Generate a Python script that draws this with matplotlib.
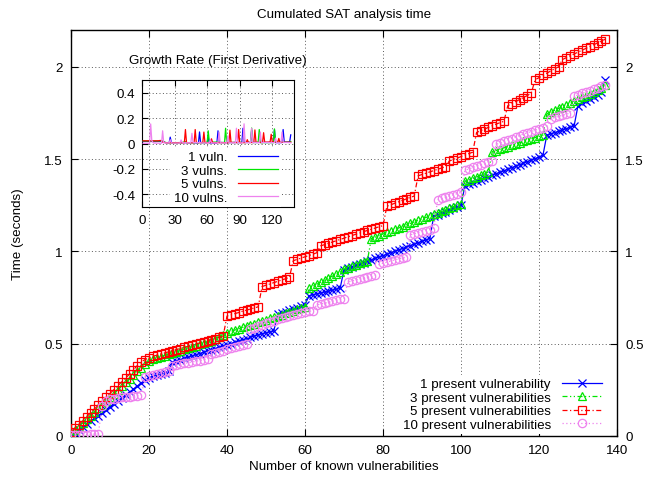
import numpy as np
import matplotlib
matplotlib.use("Agg")
import matplotlib.pyplot as plt
from matplotlib import ticker

plt.rcParams['font.family'] = ['Liberation Sans', 'DejaVu Sans']
FS = 9.6

# cumulated SAT analysis time (seconds), one value per known vulnerability count 0..137
time_1vuln = [
    0.000, 0.015, 0.031, 0.047, 0.063, 0.079, 0.095, 0.111, 0.127, 0.143,
    0.159, 0.175, 0.190, 0.206, 0.222, 0.238, 0.254, 0.270, 0.288, 0.302,
    0.315, 0.324, 0.331, 0.338, 0.344, 0.350, 0.400, 0.407, 0.413, 0.420,
    0.427, 0.434, 0.440, 0.447, 0.454, 0.461, 0.467, 0.474, 0.481, 0.488,
    0.494, 0.501, 0.508, 0.515, 0.521, 0.528, 0.535, 0.542, 0.548, 0.554,
    0.559, 0.564, 0.569, 0.660, 0.667, 0.674, 0.681, 0.688, 0.695, 0.702,
    0.710, 0.760, 0.765, 0.770, 0.775, 0.780, 0.785, 0.790, 0.795, 0.800,
    0.900, 0.908, 0.916, 0.924, 0.931, 0.939, 0.947, 0.954, 0.962, 0.970,
    0.977, 0.985, 0.993, 1.000, 1.008, 1.016, 1.024, 1.032, 1.039, 1.047,
    1.055, 1.062, 1.070, 1.190, 1.199, 1.207, 1.216, 1.224, 1.233, 1.241,
    1.250, 1.355, 1.363, 1.371, 1.380, 1.388, 1.396, 1.404, 1.413, 1.421,
    1.429, 1.437, 1.446, 1.454, 1.462, 1.470, 1.478, 1.487, 1.495, 1.503,
    1.511, 1.520, 1.630, 1.637, 1.644, 1.651, 1.658, 1.665, 1.672, 1.680,
    1.790, 1.802, 1.814, 1.826, 1.838, 1.850, 1.862, 1.930]

time_3vulns = [
    0.010, 0.030, 0.050, 0.070, 0.090, 0.110, 0.130, 0.150, 0.170, 0.190,
    0.210, 0.230, 0.250, 0.270, 0.290, 0.310, 0.330, 0.350, 0.370, 0.390,
    0.405, 0.415, 0.422, 0.429, 0.436, 0.443, 0.450, 0.456, 0.463, 0.470,
    0.476, 0.483, 0.490, 0.496, 0.503, 0.510, 0.517, 0.524, 0.535, 0.545,
    0.560, 0.567, 0.574, 0.581, 0.588, 0.595, 0.602, 0.609, 0.616, 0.623,
    0.630, 0.637, 0.644, 0.651, 0.658, 0.665, 0.672, 0.679, 0.686, 0.693,
    0.700, 0.800, 0.811, 0.822, 0.833, 0.844, 0.855, 0.866, 0.877, 0.888,
    0.905, 0.913, 0.921, 0.929, 0.937, 0.944, 0.950, 1.070, 1.078, 1.086,
    1.095, 1.103, 1.111, 1.119, 1.127, 1.135, 1.144, 1.152, 1.160, 1.168,
    1.176, 1.184, 1.193, 1.201, 1.209, 1.217, 1.225, 1.233, 1.242, 1.250,
    1.258, 1.380, 1.388, 1.396, 1.404, 1.412, 1.420, 1.430, 1.540, 1.547,
    1.554, 1.561, 1.568, 1.575, 1.582, 1.589, 1.596, 1.603, 1.610, 1.617,
    1.624, 1.630, 1.745, 1.755, 1.765, 1.775, 1.785, 1.795, 1.805, 1.815,
    1.825, 1.835, 1.845, 1.855, 1.865, 1.875, 1.885, 1.900]

time_5vulns = [
    0.020, 0.041, 0.062, 0.083, 0.104, 0.125, 0.146, 0.167, 0.188, 0.209,
    0.230, 0.251, 0.272, 0.293, 0.314, 0.335, 0.358, 0.382, 0.402, 0.414,
    0.424, 0.432, 0.438, 0.444, 0.450, 0.456, 0.462, 0.468, 0.474, 0.480,
    0.486, 0.492, 0.498, 0.504, 0.510, 0.516, 0.522, 0.528, 0.534, 0.540,
    0.650, 0.656, 0.663, 0.669, 0.676, 0.682, 0.688, 0.694, 0.700, 0.810,
    0.817, 0.824, 0.831, 0.838, 0.845, 0.852, 0.860, 0.950, 0.957, 0.964,
    0.971, 0.978, 0.985, 0.993, 1.030, 1.037, 1.044, 1.051, 1.058, 1.065,
    1.072, 1.079, 1.086, 1.093, 1.100, 1.107, 1.114, 1.120, 1.127, 1.134,
    1.140, 1.245, 1.253, 1.261, 1.269, 1.277, 1.285, 1.293, 1.300, 1.410,
    1.417, 1.424, 1.431, 1.438, 1.445, 1.452, 1.460, 1.490, 1.498, 1.506,
    1.514, 1.522, 1.530, 1.538, 1.645, 1.654, 1.663, 1.672, 1.681, 1.690,
    1.698, 1.705, 1.790, 1.801, 1.812, 1.823, 1.834, 1.845, 1.857, 1.930,
    1.942, 1.954, 1.966, 1.978, 1.990, 2.000, 2.040, 2.050, 2.060, 2.070,
    2.080, 2.090, 2.100, 2.110, 2.120, 2.130, 2.140, 2.150]

time_10vulns = [
    0.004, 0.005, 0.006, 0.007, 0.008, 0.009, 0.010, 0.011, 0.165, 0.190,
    0.200, 0.203, 0.206, 0.209, 0.212, 0.214, 0.216, 0.218, 0.220, 0.320,
    0.325, 0.330, 0.335, 0.340, 0.345, 0.350, 0.380, 0.385, 0.389, 0.393,
    0.397, 0.401, 0.405, 0.409, 0.413, 0.417, 0.445, 0.451, 0.457, 0.463,
    0.469, 0.475, 0.481, 0.487, 0.493, 0.500, 0.580, 0.587, 0.595, 0.603,
    0.610, 0.617, 0.624, 0.635, 0.640, 0.645, 0.650, 0.655, 0.660, 0.665,
    0.670, 0.675, 0.680, 0.710, 0.715, 0.720, 0.725, 0.730, 0.735, 0.740,
    0.745, 0.835, 0.840, 0.845, 0.850, 0.855, 0.860, 0.865, 0.870, 0.930,
    0.936, 0.942, 0.948, 0.954, 0.960, 0.965, 0.970, 1.090, 1.096, 1.102,
    1.108, 1.113, 1.118, 1.125, 1.280, 1.287, 1.294, 1.300, 1.307, 1.313,
    1.320, 1.440, 1.447, 1.455, 1.462, 1.470, 1.477, 1.484, 1.490, 1.580,
    1.588, 1.596, 1.604, 1.612, 1.620, 1.628, 1.636, 1.643, 1.650, 1.657,
    1.664, 1.671, 1.678, 1.720, 1.726, 1.732, 1.738, 1.744, 1.750, 1.840,
    1.848, 1.856, 1.864, 1.872, 1.880, 1.887, 1.894, 1.900]

main_labels = ['1 present vulnerability', '3 present vulnerabilities',
               '5 present vulnerabilities', '10 present vulnerabilities']
inset_labels = ['1 vuln.', '3 vulns.', '5 vulns.', '10 vulns.']

n_known = np.arange(len(time_1vuln))
series = [time_1vuln, time_3vulns, time_5vulns, time_10vulns]
colors = ['#0000ff', '#00e600', '#ff0000', 'violet']
markers = ['x', '^', 's', 'o']
styles = ['-', (0, (4, 2, 1, 2, 1, 2)), (0, (4, 2, 1, 2)), (0, (1, 2))]

fig = plt.figure(figsize=(6.49, 4.81), dpi=100)
ax = fig.add_axes([71 / 649, 44 / 481, 546 / 649, 406 / 481])

for ys, c, m, ls, lab in zip(series, colors, markers, styles, main_labels):
    ax.plot(n_known, ys, color=c, marker=m, linestyle=ls, linewidth=0.9,
            markersize=6, markerfacecolor='none', markeredgewidth=0.9,
            label=lab, zorder=3)

ax.set_xlim(0, 140)
ax.set_ylim(0, 2.2)
ax.set_xticks(np.arange(0, 141, 20))
ax.set_yticks(np.arange(0, 2.01, 0.5))
ax.yaxis.set_major_formatter(ticker.FormatStrFormatter('%g'))
ax.tick_params(direction='in', top=True, right=True, labelright=True,
               length=5, width=0.8, labelsize=FS, pad=6)
ax.grid(True, linestyle=(0, (1, 2.5)), color='0.35', linewidth=0.7, zorder=0)
for sp in ax.spines.values():
    sp.set_linewidth(1.0)
ax.set_xlabel('Number of known vulnerabilities', fontsize=FS, labelpad=3)
ax.set_ylabel('Time (seconds)', fontsize=FS, labelpad=14)
ax.set_title('Cumulated SAT analysis time', fontsize=FS, pad=9)

leg = ax.legend(loc='lower right', bbox_to_anchor=(0.978, 0.005), borderaxespad=0,
                markerfirst=False, fontsize=FS, handlelength=3.0, handletextpad=0.8,
                labelspacing=0.08, borderpad=0.25, frameon=True, fancybox=False)
leg.get_frame().set_facecolor('white')
leg.get_frame().set_edgecolor('none')
leg.get_frame().set_alpha(1)
leg.set_zorder(5)

# inset: first derivative
axin = fig.add_axes([142 / 649, 273 / 481, 152 / 649, 127 / 481])
axin.patch.set_alpha(0)
for ys, c, lab in zip(series, colors, inset_labels):
    axin.plot(n_known[1:], np.diff(ys), color=c, linewidth=0.9, label=lab, zorder=3)
axin.set_xlim(0, 140)
axin.set_ylim(-0.5, 0.5)
axin.set_xticks(np.arange(0, 121, 30))
axin.set_yticks([-0.4, -0.2, 0, 0.2, 0.4])
axin.yaxis.set_major_formatter(ticker.FormatStrFormatter('%g'))
axin.tick_params(direction='in', top=True, length=4, width=0.8, labelsize=FS, pad=5)
axin.grid(True, linestyle=(0, (1, 2.5)), color='0.35', linewidth=0.7, zorder=0)
axin.set_title('Growth Rate (First Derivative)', fontsize=FS, pad=12)

axin2 = axin.twinx()
axin2.set_ylim(0, 2.2)
axin2.set_yticks(np.arange(0, 2.01, 0.5))
axin2.yaxis.set_major_formatter(ticker.FormatStrFormatter('%g'))
axin2.tick_params(direction='in', length=4, width=0.8, labelsize=FS, pad=5)

leg2 = axin.legend(loc='lower right', bbox_to_anchor=(0.915, 0.0), borderaxespad=0,
                   markerfirst=False, fontsize=FS, handlelength=3.0, handletextpad=0.8,
                   labelspacing=0.08, borderpad=0.25, frameon=True, fancybox=False)
leg2.get_frame().set_facecolor('white')
leg2.get_frame().set_edgecolor('none')
leg2.get_frame().set_alpha(1)
axin2.set_zorder(axin.get_zorder() - 1)
axin.set_zorder(4)

fig.savefig('out.png', dpi=100)
